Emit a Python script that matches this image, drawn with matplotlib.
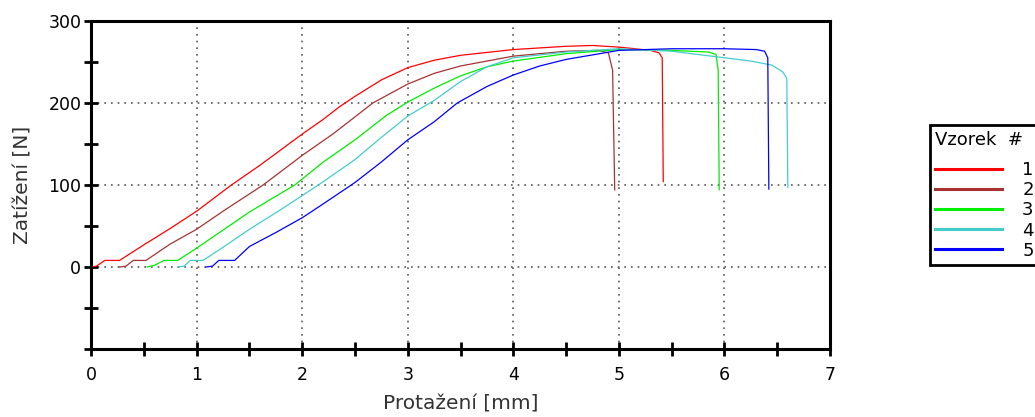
import numpy as np
import matplotlib.pyplot as plt
from matplotlib.ticker import MultipleLocator, FuncFormatter

# Force-elongation curves, one per specimen (x in mm, y in N)
x1 = [0, 0.05, 0.13, 0.27, 0.5, 0.75, 1.0, 1.33, 1.6, 2.0, 2.2, 2.35, 2.5, 2.75, 3.0,
      3.25, 3.5, 4.0, 4.5, 4.75, 5.0, 5.3, 5.38, 5.41, 5.42]
y1 = [0, 1, 8, 8, 27, 47, 68, 100, 124, 162, 180, 195, 208, 228, 243,
      252, 258, 265, 269, 270, 268, 264, 261, 255, 104]

x2 = [0.27, 0.33, 0.40, 0.52, 0.75, 1.0, 1.25, 1.63, 2.0, 2.3, 2.67, 3.0, 3.25, 3.5,
      4.0, 4.5, 4.8, 4.9, 4.94, 4.96]
y2 = [0, 1, 8, 8, 28, 46, 68, 100, 136, 163, 200, 223, 236, 245,
      257, 263, 264, 261, 240, 94]

x3 = [0.53, 0.6, 0.69, 0.82, 1.0, 1.25, 1.5, 1.93, 2.2, 2.5, 2.8, 3.0, 3.25, 3.5,
      3.75, 4.0, 4.5, 5.0, 5.5, 5.85, 5.92, 5.94, 5.95]
y3 = [0, 2, 8, 8, 23, 45, 67, 100, 128, 155, 185, 201, 218, 233,
      244, 251, 260, 265, 264, 262, 259, 240, 94]

x4 = [0.82, 0.88, 0.94, 1.06, 1.25, 1.5, 1.75, 2.0, 2.2, 2.5, 2.75, 3.0, 3.25, 3.5,
      3.75, 4.0, 4.5, 5.0, 5.5, 6.0, 6.25, 6.45, 6.55, 6.59, 6.6]
y4 = [0, 1, 8, 8, 24, 46, 66, 87, 104, 131, 158, 184, 203, 226,
      244, 255, 262, 266, 263, 255, 251, 246, 238, 230, 97]

x5 = [1.09, 1.15, 1.21, 1.36, 1.5, 1.75, 2.0, 2.2, 2.5, 2.75, 3.0, 3.25, 3.47, 3.75,
      4.0, 4.25, 4.5, 5.0, 5.5, 6.0, 6.3, 6.38, 6.41, 6.42]
y5 = [0, 1, 8, 8, 25, 42, 60, 77, 103, 128, 155, 177, 200, 220,
      234, 245, 253, 264, 266, 266, 265, 263, 255, 95]

labels = ['1', '2', '3', '4', '5']
colors = ['#ff0000', '#a83232', '#00ee00', '#44cccc', '#0000ff']

plt.rcParams['font.family'] = 'DejaVu Sans'

fig = plt.figure(figsize=(10.35, 4.17), dpi=100)
ax = fig.add_axes([0.088, 0.163, 0.714, 0.787])

series = [(x1, y1), (x2, y2), (x3, y3), (x4, y4), (x5, y5)]
for (xs, ys), lab, c in zip(series, labels, colors):
    ax.plot(xs, ys, color=c, lw=0.9, label=lab)

ax.set_xlim(0, 7)
ax.set_ylim(-100, 300)
ax.xaxis.set_major_locator(MultipleLocator(1))
ax.xaxis.set_minor_locator(MultipleLocator(0.5))
ax.yaxis.set_major_locator(MultipleLocator(100))
ax.yaxis.set_minor_locator(MultipleLocator(50))
# no label on the negative end of the load axis
ax.yaxis.set_major_formatter(FuncFormatter(lambda v, p: '' if v < 0 else '%d' % v))
ax.tick_params(which='both', direction='inout', length=10, width=2, labelsize=12.5)
ax.tick_params(axis='y', pad=2)
ax.tick_params(axis='x', pad=7)

for s in ax.spines.values():
    s.set_linewidth(2.2)

ax.grid(True, which='major', linestyle=(0, (1, 3)), color='#555555', linewidth=1.2)

ax.set_xlabel('Protažení [mm]', fontsize=14.5, color='#333333')
ax.set_ylabel('Zatížení [N]', fontsize=14.5, color='#333333')
ax.xaxis.set_label_coords(0.5, -0.140)
ax.yaxis.set_label_coords(-0.079, 0.5)

leg = ax.legend(title='Vzorek  #', loc='upper left', bbox_to_anchor=(0.8986, 0.700),
                bbox_transform=fig.transFigure, fontsize=13, title_fontsize=13,
                handlelength=3.7, handletextpad=1.1, labelspacing=0.12,
                fancybox=False, framealpha=1, edgecolor='black', borderpad=0.3,
                borderaxespad=0)
leg._legend_box.align = 'left'
leg._legend_box.sep = 9
leg.get_frame().set_linewidth(2)
for ln in leg.get_lines():
    ln.set_linewidth(2.2)

fig.savefig('out.png', dpi=100)
